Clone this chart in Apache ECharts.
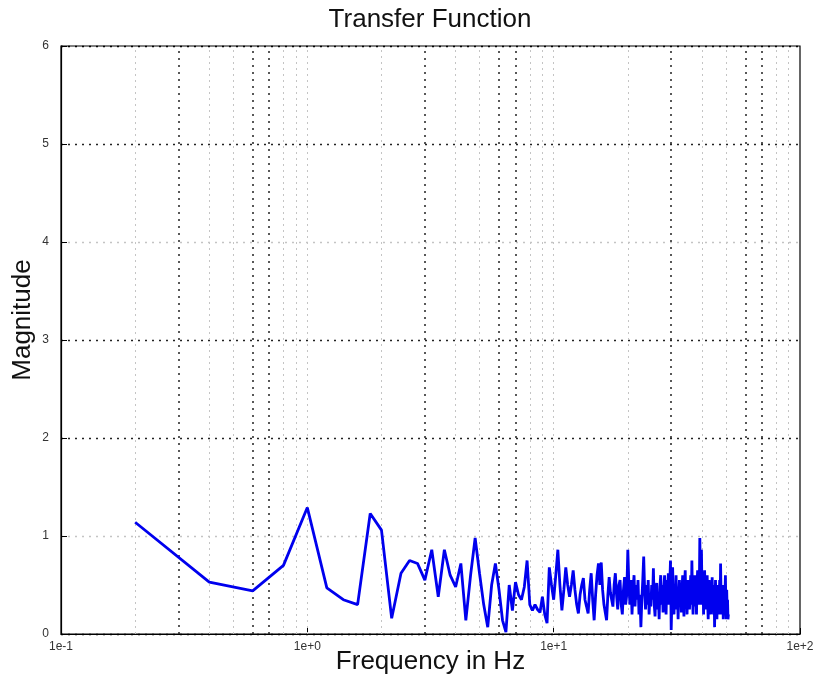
<!DOCTYPE html>
<html><head><meta charset="utf-8">
<script src="https://cdn.jsdelivr.net/npm/echarts@6/dist/echarts.min.js"></script>
<style>html,body{margin:0;padding:0;background:#fff}#c{width:822px;height:698px}</style>
</head><body><div id="c"></div>
<script>
const freq = [
  0.2,0.4,0.6,0.8,1.0,1.2,1.4,1.6,1.8,2.0,
  2.2,2.4,2.6,2.8,3.0,3.2,3.4,3.6,3.8,4.0,
  4.2,4.4,4.6,4.8,5.0,5.2,5.4,5.6,5.8,6.0,
  6.2,6.4,6.6,6.8,7.0,7.2,7.4,7.6,7.8,8.0,
  8.2,8.4,8.6,8.8,9.0,9.2,9.4,9.6,9.8,10.0,
  10.2,10.4,10.6,10.8,11.0,11.2,11.4,11.6,11.8,12.0,
  12.2,12.4,12.6,12.8,13.0,13.2,13.4,13.6,13.8,14.0,
  14.2,14.4,14.6,14.8,15.0,15.2,15.4,15.6,15.8,16.0,
  16.2,16.4,16.6,16.8,17.0,17.2,17.4,17.6,17.8,18.0,
  18.2,18.4,18.6,18.8,19.0,19.2,19.4,19.6,19.8,20.0,
  20.2,20.4,20.6,20.8,21.0,21.2,21.4,21.6,21.8,22.0,
  22.2,22.4,22.6,22.8,23.0,23.2,23.4,23.6,23.8,24.0,
  24.2,24.4,24.6,24.8,25.0,25.2,25.4,25.6,25.8,26.0,
  26.2,26.4,26.6,26.8,27.0,27.2,27.4,27.6,27.8,28.0,
  28.2,28.4,28.6,28.8,29.0,29.2,29.4,29.6,29.8,30.0,
  30.2,30.4,30.6,30.8,31.0,31.2,31.4,31.6,31.8,32.0,
  32.2,32.4,32.6,32.8,33.0,33.2,33.4,33.6,33.8,34.0,
  34.2,34.4,34.6,34.8,35.0,35.2,35.4,35.6,35.8,36.0,
  36.2,36.4,36.6,36.8,37.0,37.2,37.4,37.6,37.8,38.0,
  38.2,38.4,38.6,38.8,39.0,39.2,39.4,39.6,39.8,40.0,
  40.2,40.4,40.6,40.8,41.0,41.2,41.4,41.6,41.8,42.0,
  42.2,42.4,42.6,42.8,43.0,43.2,43.4,43.6,43.8,44.0,
  44.2,44.4,44.6,44.8,45.0,45.2,45.4,45.6,45.8,46.0,
  46.2,46.4,46.6,46.8,47.0,47.2,47.4,47.6,47.8,48.0,
  48.2,48.4,48.6,48.8,49.0,49.2,49.4,49.6,49.8,50.0,
  50.2,50.4,50.6,50.8,51.0,51.2
];
const magnitude = [
  1.14,0.53,0.44,0.70,1.29,0.47,0.35,0.30,1.23,1.06,
  0.16,0.62,0.75,0.72,0.55,0.86,0.38,0.86,0.60,0.48,
  0.72,0.14,0.60,0.98,0.62,0.30,0.07,0.50,0.72,0.45,
  0.14,0.02,0.50,0.24,0.53,0.40,0.35,0.48,0.75,0.30,
  0.24,0.30,0.25,0.22,0.38,0.20,0.11,0.68,0.50,0.35,
  0.60,0.86,0.50,0.24,0.45,0.68,0.50,0.38,0.50,0.65,
  0.45,0.30,0.21,0.40,0.50,0.57,0.35,0.28,0.21,0.45,
  0.62,0.35,0.14,0.40,0.60,0.72,0.50,0.73,0.45,0.30,
  0.22,0.14,0.40,0.58,0.42,0.35,0.28,0.50,0.62,0.40,
  0.25,0.50,0.55,0.30,0.20,0.45,0.58,0.30,0.40,0.86,
  0.50,0.30,0.55,0.20,0.45,0.60,0.28,0.50,0.35,0.55,
  0.20,0.40,0.07,0.35,0.55,0.79,0.45,0.25,0.50,0.30,
  0.55,0.20,0.40,0.28,0.50,0.35,0.67,0.30,0.18,0.45,
  0.52,0.25,0.40,0.15,0.48,0.60,0.30,0.50,0.22,0.45,
  0.60,0.35,0.20,0.55,0.40,0.62,0.30,0.50,0.75,0.04,
  0.35,0.68,0.40,0.20,0.50,0.30,0.60,0.25,0.45,0.15,
  0.40,0.55,0.30,0.50,0.22,0.45,0.60,0.35,0.18,0.50,
  0.65,0.30,0.45,0.20,0.55,0.35,0.50,0.25,0.45,0.60,
  0.30,0.75,0.40,0.20,0.50,0.35,0.60,0.28,0.45,0.20,
  0.50,0.65,0.30,0.55,0.40,0.98,0.60,0.30,0.86,0.45,
  0.30,0.55,0.20,0.45,0.65,0.35,0.50,0.25,0.40,0.60,
  0.30,0.15,0.45,0.55,0.25,0.40,0.20,0.50,0.35,0.58,
  0.30,0.45,0.20,0.50,0.07,0.35,0.55,0.25,0.40,0.15,
  0.45,0.30,0.50,0.20,0.40,0.55,0.30,0.72,0.40,0.20,
  0.50,0.30,0.45,0.15,0.35,0.50,0.25,0.40,0.60,0.30,
  0.15,0.45,0.25,0.35,0.15,0.20
];
const xTickLabels = ['1e-1','1e+0','1e+1','1e+2'];
const yTickLabels = ['0','1','2','3','4','5','6'];
const gridDark = [0.3,0.6,0.7,3,6,7,30,60,70];
const gridFaint = [0.2,0.4,0.5,0.8,0.9,1,2,4,5,8,9,10,20,40,50,80,90];

const chart = echarts.init(document.getElementById('c'), null, {renderer:'canvas'});
const FONT = 'Liberation Sans';
const lines = [];
gridFaint.forEach(v => lines.push({xAxis:v, lineStyle:{color:'#c4c4c4', type:[2,4], width:1}}));
gridDark.forEach(v => lines.push({xAxis:v, lineStyle:{color:'#222222', type:[2,5], width:1.5}}));

chart.setOption({
  animation:false,
  backgroundColor:'#fff',
  title:{text:'Transfer Function', left:425, textAlign:'center', top:2,
    textStyle:{fontFamily:FONT, fontSize:26, fontWeight:'normal', color:'#111'}},
  grid:{left:61, right:22, top:46, bottom:64, show:true, borderColor:'#000', borderWidth:1.2,
    containLabel:false, outerBoundsMode:'none'},
  xAxis:{type:'log', logBase:10, min:0.1, max:100,
    name:'Frequency in Hz', nameLocation:'middle', nameGap:15, nameMoveOverlap:false,
    nameTextStyle:{fontFamily:FONT, fontSize:26, color:'#111', verticalAlign:'top'},
    axisLine:{lineStyle:{color:'#000', width:1.2}},
    axisTick:{inside:true, length:6, lineStyle:{color:'#000'}},
    axisLabel:{fontFamily:FONT, fontSize:12, color:'#333', margin:7,
      formatter:v => xTickLabels[Math.round(Math.log10(v)) + 1]},
    splitLine:{show:false}, minorTick:{show:false}},
  yAxis:{type:'value', min:0, max:6, interval:1,
    name:'Magnitude', nameLocation:'middle', nameGap:25, nameMoveOverlap:false,
    nameTextStyle:{fontFamily:FONT, fontSize:26, color:'#111', padding:[0,0,0,40]},
    axisLine:{show:true, lineStyle:{color:'#000', width:1.2}},
    axisTick:{show:true, inside:true, length:6, lineStyle:{color:'#000'}},
    axisLabel:{fontFamily:FONT, fontSize:12, color:'#333', margin:12,
      formatter:v => yTickLabels[Math.round(v)]},
    splitLine:{show:true, lineStyle:{type:[2,5], width:1.3,
      color:['#000','#c4c4c4','#222','#222','#c4c4c4','#222','#000']}}},
  series:[
    {type:'line', data:[], z:1, silent:true,
      markLine:{silent:true, symbol:['none','none'], label:{show:false}, animation:false, data:lines}},
    {type:'line', z:5, showSymbol:false, symbol:'none',
      data:freq.map((f,i)=>[f, magnitude[i]]),
      lineStyle:{color:'#0000ee', width:2.8}}
  ]
});
</script></body></html>
